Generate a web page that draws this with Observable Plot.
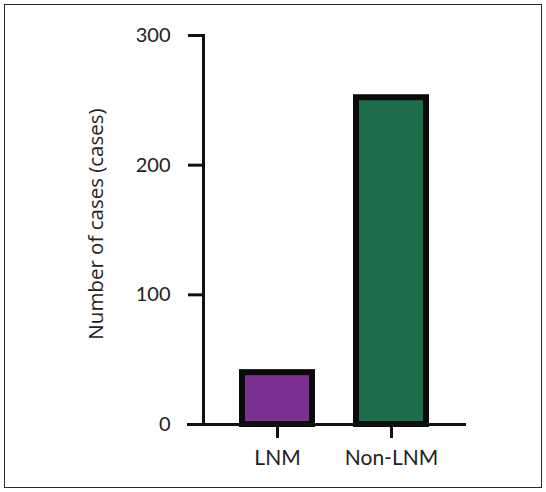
<!DOCTYPE html>
<html>
<head>
<meta charset="utf-8">
<script src="https://cdn.jsdelivr.net/npm/d3@7"></script>
<script src="https://cdn.jsdelivr.net/npm/@observablehq/plot@0.6"></script>
<style>
  html, body { margin: 0; padding: 0; background: #fff; }
  #wrap { position: relative; width: 546px; height: 492px; }
  #border { position: absolute; left: 4px; top: 4px; width: 536px; height: 482px; border: 1.5px solid #2a2a2a; pointer-events: none; }
  svg { display: block; }
</style>
</head>
<body>
<div id="wrap"><div id="border"></div></div>
<script>
const groups = ["LNM", "Non-LNM"];
const counts = [40, 252];
const colors = ["#7b2f8e", "#1e6e4b"];
const yTicks = [0, 100, 200, 300];
const yLabel = "Number of cases (cases)";

const data = groups.map((g, i) => ({group: g, value: counts[i], color: colors[i]}));

const chart = Plot.plot({
  width: 546,
  height: 492,
  marginLeft: 203,
  marginRight: 80,
  marginTop: 35,
  marginBottom: 68,
  style: {background: "transparent", color: "#222"},
  x: {domain: groups, paddingInner: 0.384, paddingOuter: 0.34, align: 0.5, label: null},
  y: {domain: [0, 300], label: null},
  marks: [
    Plot.barY(data, {x: "group", y: "value", fill: "color", stroke: "#0a0a0a", strokeWidth: 6}),
    Plot.ruleY([0], {stroke: "#111", strokeWidth: 3, insetLeft: -16}),
    Plot.frame({anchor: "left", stroke: "#111", strokeWidth: 3}),
    Plot.axisY({ticks: yTicks, tickSize: 15, tickPadding: 18, strokeWidth: 3, stroke: "#111", fontSize: 20, fontFamily: "Lato", label: null, tickFormat: d => String(d)}),
    Plot.axisX({tickSize: 14, tickPadding: 12, strokeWidth: 3, stroke: "#111", fontSize: 21, fontFamily: "Lato", label: null}),
    Plot.text([yLabel], {frameAnchor: "left", textAnchor: "middle", rotate: -90, dx: -107, dy: -6, fontSize: 20.5, fontFamily: "Open Sans", fill: "#222"})
  ]
});
document.getElementById("wrap").prepend(chart);
</script>
</body>
</html>
